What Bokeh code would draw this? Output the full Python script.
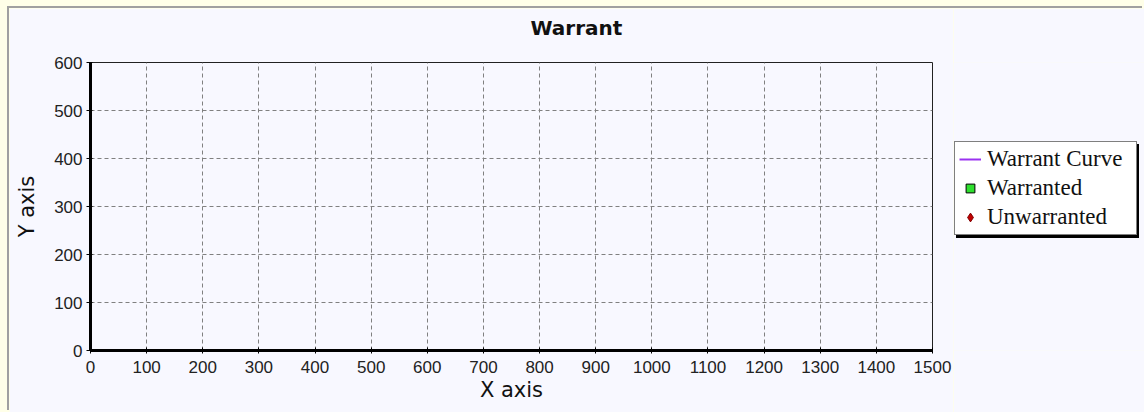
from bokeh.plotting import figure
from bokeh.layouts import row
from bokeh.models import Range1d, Legend, LegendItem, ColumnDataSource, Title
from bokeh.embed import file_html
from bokeh.resources import INLINE

# ---- data -------------------------------------------------------------
title_text = "Warrant"
x_label = "X axis"
y_label = "Y axis"
x_ticks = [0, 100, 200, 300, 400, 500, 600, 700, 800, 900, 1000, 1100, 1200, 1300, 1400, 1500]
y_ticks = [0, 100, 200, 300, 400, 500, 600]
x_limits = [0, 1500]
y_limits = [0, 600]

series_names = ["Warrant Curve", "Warranted", "Unwarranted"]
curve_x = []
curve_y = []
warranted_x = []
warranted_y = []
unwarranted_x = []
unwarranted_y = []

NAN = float("nan")


def src(xs, ys):
    # an empty series keeps one missing point so that its legend glyph is still drawn
    return ColumnDataSource(dict(x=list(xs) or [NAN], y=list(ys) or [NAN]))


s_curve = src(curve_x, curve_y)
s_warr = src(warranted_x, warranted_y)
s_unwarr = src(unwarranted_x, unwarranted_y)

BG = "#F8F8FF"
CURVE_COLOR = "#9A32F0"
WARR_FILL = "#2EE02E"
UNWARR_FILL = "#C00000"


def add_series(fig):
    r1 = fig.line("x", "y", source=s_curve, line_color=CURVE_COLOR, line_width=2)
    r2 = fig.scatter("x", "y", source=s_warr, marker="square", size=10,
                     fill_color=WARR_FILL, line_color="#000000", line_width=1)
    r3 = fig.scatter("x", "y", source=s_unwarr, marker="diamond", size=10,
                     fill_color=UNWARR_FILL, line_color="#800000", line_width=1)
    return [r1, r2, r3]


# ---- main chart -------------------------------------------------------
p = figure(width=944, height=404, output_backend="svg", toolbar_location=None,
           x_range=Range1d(x_limits[0], x_limits[1]),
           y_range=Range1d(y_limits[0], y_limits[1]),
           min_border_left=81, min_border_right=21,
           min_border_top=54, min_border_bottom=62,
           background_fill_color=BG, border_fill_color=BG)

# spacer between the frame and the title
p.add_layout(Title(text=" ", text_font_size="1px", standoff=20), "above")

p.title.text = title_text
p.title.text_font = "DejaVu Sans"
p.title.text_font_size = "20px"
p.title.text_font_style = "bold"
p.title.text_color = "#111111"
p.title.align = "left"
p.title.offset = 440
p.title.standoff = 0

p.outline_line_color = "#222222"
p.outline_line_width = 1

for ax in (p.xaxis, p.yaxis):
    ax.axis_line_color = "black"
    ax.axis_line_width = 3
    ax.major_tick_line_color = "black"
    ax.major_tick_line_width = 1
    ax.minor_tick_line_color = None
    ax.major_label_text_font = "Liberation Sans"
    ax.major_label_text_font_size = "17px"
    ax.major_label_text_color = "#222222"
    ax.axis_label_text_font = "DejaVu Sans"
    ax.axis_label_text_font_size = "21px"
    ax.axis_label_text_font_style = "normal"
    ax.axis_label_text_color = "#111111"

p.xaxis.ticker = x_ticks
p.yaxis.ticker = y_ticks
p.xaxis.axis_label = x_label
p.yaxis.axis_label = y_label
p.xaxis.major_tick_in = 3
p.xaxis.major_tick_out = 3
p.yaxis.major_tick_in = 2
p.yaxis.major_tick_out = 4
p.xaxis.major_label_standoff = 7
p.yaxis.major_label_standoff = 4
p.xaxis.axis_label_standoff = 2
p.yaxis.axis_label_standoff = 12

p.grid.grid_line_color = "#808080"
p.grid.grid_line_dash = "4 3"
p.grid.grid_line_width = 1

add_series(p)

# ---- legend panel -------------------------------------------------------
pl = figure(width=191, height=404, output_backend="svg", toolbar_location=None,
            x_range=Range1d(0, 1), y_range=Range1d(0, 1),
            x_axis_location=None, y_axis_location=None,
            min_border=0, background_fill_color=BG, border_fill_color=BG,
            outline_line_color=None)
pl.grid.visible = False
leg_renderers = add_series(pl)


def make_legend(loc, bg, text_color, labels):
    items = [LegendItem(label=n, renderers=[r]) for n, r in zip(labels, leg_renderers)]
    return Legend(items=items, location=loc,
                  background_fill_color=bg, background_fill_alpha=1.0,
                  border_line_color="black", border_line_width=1,
                  label_text_font="Liberation Serif", label_text_font_size="23px",
                  label_text_color=text_color,
                  glyph_width=22, glyph_height=26, label_height=26, label_width=145,
                  label_standoff=6, spacing=3, padding=4, margin=0)


# drop shadow (same box, blank labels) under the real legend
pl.add_layout(make_legend((3, 112), "black", "black", [" "] * len(series_names)), "center")
pl.add_layout(make_legend((1, 115), "white", "#111111", series_names), "center")

layout = row(p, pl, spacing=0)
layout.styles = {"box-shadow": "-2px -2px 0 0 #A0A0A0"}

html = file_html(layout, INLINE)
style = ("<style>html,body{background:#FFFFE8;} body{padding:8px 0 0 9px;}</style>")
html = html.replace("</head>", style + "</head>", 1)
open("out.html", "w").write(html)
